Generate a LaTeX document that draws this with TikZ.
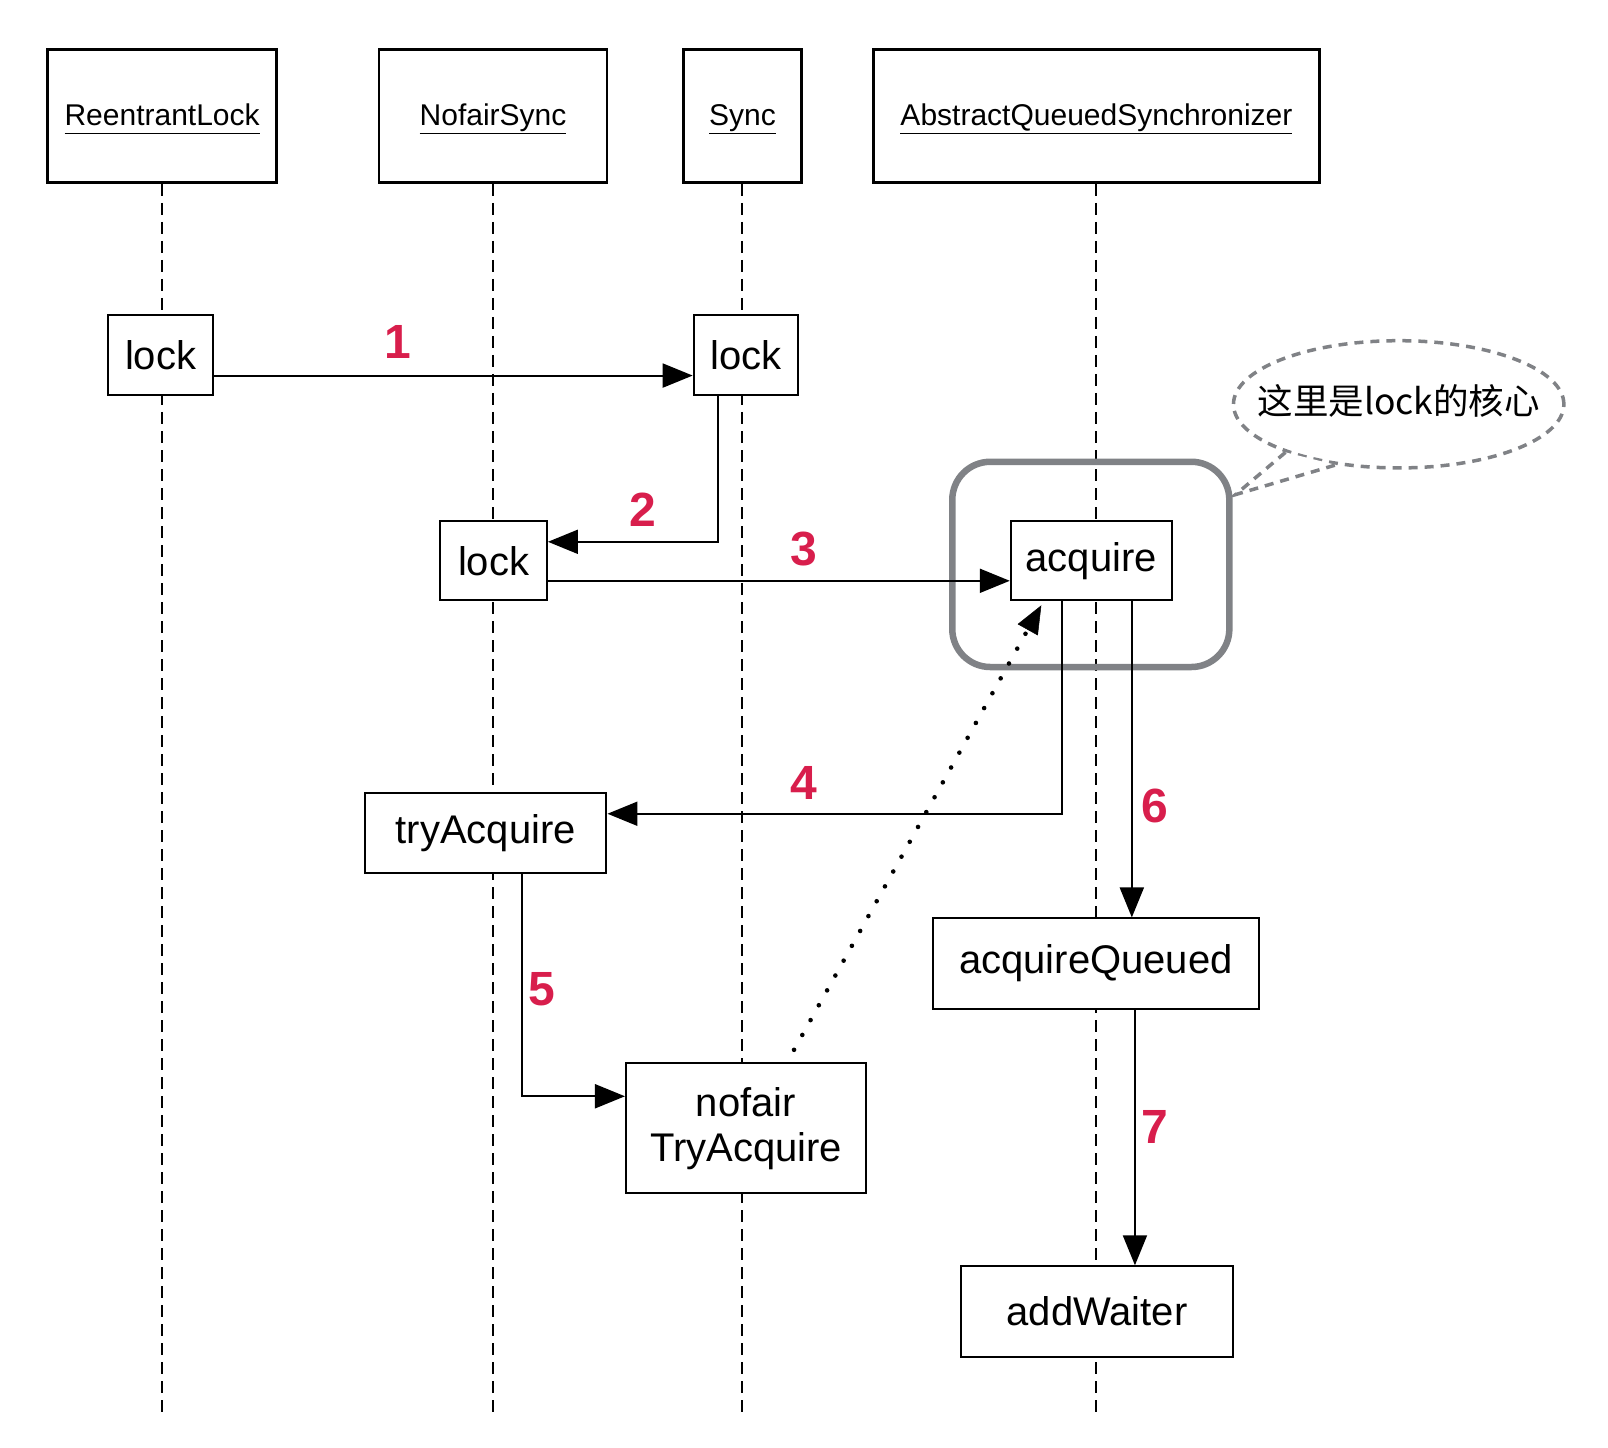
\documentclass[tikz,border=0pt]{standalone}
\usepackage{fontspec}
\setmainfont{Liberation Sans}
\newfontfamily\cjk{Noto Sans CJK SC}
\usetikzlibrary{arrows.meta,shapes.geometric,calc}
\definecolor{numred}{HTML}{D81E4C}
\definecolor{hlgray}{HTML}{808286}
\newcommand\myu{1.026pt}
\newcommand\hul[1]{\underline{#1\vphantom{y}}}
\begin{document}
\begin{tikzpicture}[x=1.026pt,y=-1.026pt,
  head/.style={draw, line width=2.6pt, fill=white, minimum width=#1*\myu, minimum height=130*\myu, inner sep=0pt, text height=22pt, text depth=2pt, font=\fontsize{30}{32}\selectfont},
  act/.style 2 args={draw, line width=2pt, fill=white, minimum width=#1*\myu, minimum height=#2*\myu, inner sep=0pt, align=center, font=\fontsize{40}{45}\selectfont},
  life/.style={line width=2pt, dash pattern=on 12pt off 7pt},
  arr/.style={line width=2pt, -{Triangle[length=30pt,width=24pt]}},
  dotarr/.style={line width=4.6pt, line cap=round, dash pattern=on 0pt off 17pt, -{Triangle[length=28pt,width=23pt,line width=0.5pt]}},
  num/.style={text=numred, font=\bfseries\fontsize{48}{50}\selectfont, inner sep=0pt},
  cloudline/.style={draw=hlgray, line width=3.5pt, dash pattern=on 9pt off 7pt}
]
\useasboundingbox (0,0) rectangle (1567,1411);
\coordinate (bot) at (0,1380);

% headers
\node[head=223] (hRL) at (158,113) {\hul{ReentrantLock}};
\node[head=222] (hNS) at (480.5,113) {\hul{NofairSync}};
\node[head=115] (hSy) at (723.5,113) {\hul{Sync}};
\node[head=435] (hAQ) at (1068.5,113) {\hul{AbstractQueuedSynchronizer}};

% lifelines
\draw[life] (hRL.south) -- (hRL.south |- bot);
\draw[life] (hNS.south) -- (hNS.south |- bot);
\draw[life] (hSy.south) -- (hSy.south |- bot);
\draw[life] (hAQ.south) -- (hAQ.south |- bot);

% highlight box
\node[draw=hlgray, line width=6.5pt, rounded corners=38pt, minimum width=270*\myu, minimum height=200*\myu] (core) at (1063,550) {};

% activation boxes
\node[act={103}{78}] (lockA) at (156.5,346) {lock};
\node[act={102}{78}] (lockB) at (727,346) {lock};
\node[act={104}{77}] (lockC) at (481,546.5) {lock};
\node[act={157}{77}] (acq) at (1063.5,546.5) {acquire};
\node[act={235}{78}] (tryA) at (473.5,812) {tryAcquire};
\node[act={318}{88}] (acqQ) at (1068,939) {acquireQueued};
\node[act={266}{88}] (addW) at (1069,1278) {addWaiter};
\node[act={234}{127}] (nofair) at (727,1099.5) {nofair\\TryAcquire};

% messages
\draw[arr] ([yshift=-20.5pt]lockA.east) -- ([yshift=-20.5pt]lockB.west);
\draw[arr] ([xshift=-27.7pt]lockB.south) |- ([yshift=19pt]lockC.east);
\draw[arr] ([yshift=-20pt]lockC.east) -- ([yshift=-20pt]acq.west);
\draw[arr] ([xshift=-29pt]acq.south) |- ([yshift=19.5pt]tryA.east);
\draw[arr] ([xshift=36.5pt]tryA.south) |- ([yshift=32pt]nofair.west);
\draw[arr] ([xshift=40.5pt]acq.south) -- ([xshift=40.5pt]acq.south |- acqQ.north);
\draw[arr] ([xshift=39pt]acqQ.south) -- ([xshift=39pt]acqQ.south |- addW.north);
\draw[dotarr] ([xshift=48pt,yshift=12.3pt]nofair.north) -- ([xshift=-50pt,yshift=-4pt]acq.south);

% numbers
\node[num] (n1) at (388,333) {1};
\node[num] (n2) at (626,497) {2};
\node[num] (n3) at (783,535) {3};
\node[num] (n4) at (783,763) {4};
\node[num] (n5) at (528,964) {5};
\node[num] (n6) at (1125,785) {6};
\node[num] (n7) at (1125,1098) {7};

% callout
\node[ellipse, cloudline, minimum width=322*\myu, minimum height=124*\myu, inner sep=0pt] (cloud) at (1363,394) {};
\node[font=\cjk\fontsize{35.5}{38}\selectfont, inner sep=0pt] (cloudtxt) at (1363,391) {这里是lock的核心};
\coordinate (tip) at (1204,482);
\fill[white] (cloud.203) -- (tip) -- (cloud.224) -- cycle;
\draw[cloudline] (cloud.203) -- (tip) -- (cloud.224);
\end{tikzpicture}
\end{document}
